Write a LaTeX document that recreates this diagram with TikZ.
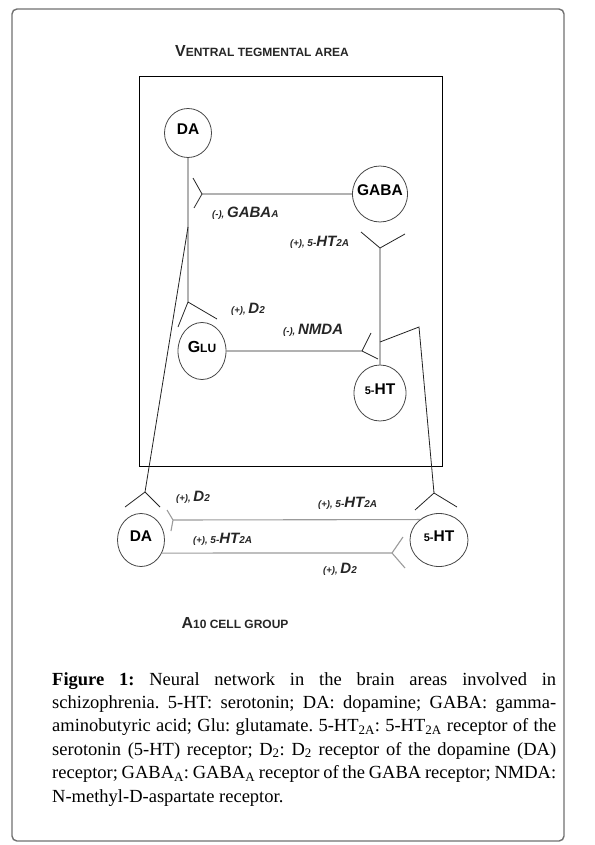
\documentclass[tikz,border=0pt]{standalone}
\usepackage{fontspec}
\setmainfont{Liberation Serif}
\setsansfont{Liberation Sans}
\usepackage{tikz}
\usetikzlibrary{shapes.geometric,positioning}
\definecolor{axoncolor}{RGB}{35,35,35}
\definecolor{cellcolor}{RGB}{70,70,70}
\definecolor{framecolor}{RGB}{112,112,112}
\definecolor{projcolor}{RGB}{155,155,155}

\newcommand{\scword}[2]{{\fontsize{16}{16}\selectfont #1}{\fontsize{12}{12}\selectfont #2}}
\newcommand{\cellname}[1]{\makebox[0pt]{\raisebox{-1.5pt}[0pt][0pt]{#1}}}
\newcommand{\sgn}[1]{{\fontsize{9.5}{10}\selectfont(#1),}\ }
\newcommand{\rcp}[3]{{\fontsize{10}{10}\selectfont #1}{\fontsize{15}{15}\selectfont #2}{\fontsize{10}{10}\selectfont #3}}

\begin{document}
\begin{tikzpicture}[
    x=1pt, y=-1pt,
    cell/.style={ellipse, draw=cellcolor, line width=0.8pt, inner sep=0pt, font=\sffamily\bfseries\fontsize{15.5}{16}\selectfont},
    axon/.style={axoncolor, line width=0.8pt},
    proj/.style={projcolor, line width=1.1pt},
    rlabel/.style={anchor=west, inner sep=0pt, text=black!85, font=\sffamily\bfseries\itshape}
]
    \useasboundingbox (0,0) rectangle (594,845);
    \draw[framecolor, line width=1.4pt, rounded corners=5pt] (12,9) rectangle (564,841);

    % Ventral tegmental area
    \node[font=\sffamily\bfseries, text=black!85] (vta) at (262,51) {\scword{V}{ENTRAL TEGMENTAL AREA}};
    \draw[black, line width=0.9pt] (139,76) rectangle (442,466);

    \node[cell, minimum width=47pt, minimum height=49pt] (daT) at (188,133) {\cellname{DA}};
    \node[cell, minimum width=55pt, minimum height=56pt] (gaba) at (380,194) {\cellname{GABA}};
    \node[cell, minimum width=48pt, minimum height=57pt] (glu) at (202,351) {\cellname{\scword{G}{LU}}};
    \node[cell, minimum width=52pt, minimum height=56pt] (htT) at (380,393) {\cellname{{\fontsize{11}{11}\selectfont 5-}HT}};

    % A10 cell group
    \node[cell, minimum width=47pt, minimum height=53pt] (daB) at (141,540) {\cellname{DA}};
    \node[cell, minimum width=58pt, minimum height=53pt] (htB) at (439,540) {\cellname{{\fontsize{11}{11}\selectfont 5-}HT}};
    \node[font=\sffamily\bfseries, text=black!85] (a10) at (235,623) {\scword{A}{10 CELL GROUP}};

    % Synapse points
    \coordinate (rDAglu) at (188,302);
    \coordinate (bDA) at (188,227);
    \coordinate (rDAb) at (145,492);
    \coordinate (rGABA) at (202,194);
    \coordinate (rGlu) at (362,351);
    \coordinate (rHT) at (380,248);
    \coordinate (bHT) at (380,342);
    \coordinate (kHT) at (419,327);
    \coordinate (rHTb) at (434,493);
    \coordinate (rUp) at (173,520);
    \coordinate (rDn) at (392,553);

    % Projections inside the VTA
    \draw[axon] (daT) -- (rDAglu) -- ++(-10,25) (rDAglu) -- ++(29,17);
    \draw[axon] (gaba) -- (rGABA) -- ++(-9,-16) (rGABA) -- ++(-8,14);
    \draw[axon] (glu) -- (rGlu) -- ++(9,-18) (rGlu) -- ++(16,8);
    \draw[axon] (htT) -- (rHT) -- ++(-19,-16) (rHT) -- ++(25,-14);

    % Projections to the A10 cell group
    \draw[axon] (bDA) -- (rDAb) -- ++(-20,15) (rDAb) -- ++(15,15);
    \draw[axon] (bHT) -- (kHT) -- (rHTb) -- ++(-19,17) (rHTb) -- ++(23,14);
    \draw[proj] (htB.133) -- (rUp) -- ++(-6,-10) (rUp) -- ++(-2,11);
    \draw[proj] (daB.-32) -- (rDn) -- ++(11,-16) (rDn) -- ++(13,15);

    % Receptor labels
    \node[rlabel] (lGABA) at (212,213) {\sgn{-}\rcp{}{GABA}{A}};
    \node[rlabel] (lHTa) at (290,242) {\sgn{+}\rcp{5-}{HT}{2A}};
    \node[rlabel] (lD2a) at (231,309) {\sgn{+}\rcp{}{D}{2}};
    \node[rlabel] (lNMDA) at (283,330) {\sgn{-}\rcp{}{NMDA}{}};
    \node[rlabel] (lD2b) at (176,497) {\sgn{+}\rcp{}{D}{2}};
    \node[rlabel] (lHTb) at (318,503) {\sgn{+}\rcp{5-}{HT}{2A}};
    \node[rlabel] (lHTc) at (193,539) {\sgn{+}\rcp{5-}{HT}{2A}};
    \node[rlabel] (lD2c) at (323,569) {\sgn{+}\rcp{}{D}{2}};

    % Caption
    \node[anchor=north west, inner sep=0pt, text width=504pt, align=justify,
          font=\fontsize{18.5}{23.4}\selectfont] (caption) at (52,672) {\hyphenpenalty=10000\frenchspacing
        \textbf{Figure 1:} Neural network in the brain areas involved in\linebreak
        schizophrenia. 5-HT: serotonin; DA: dopamine; GABA: gamma-\linebreak
        aminobutyric acid; Glu: glutamate. 5-HT\textsubscript{2A}: 5-HT\textsubscript{2A} receptor of the\linebreak
        serotonin (5-HT) receptor; D\textsubscript{2}: D\textsubscript{2} receptor of the dopamine (DA)\linebreak
        receptor; GABA\textsubscript{A}: GABA\textsubscript{A} receptor of the GABA receptor; NMDA:\linebreak
        N-methyl-D-aspartate receptor.};
\end{tikzpicture}
\end{document}
